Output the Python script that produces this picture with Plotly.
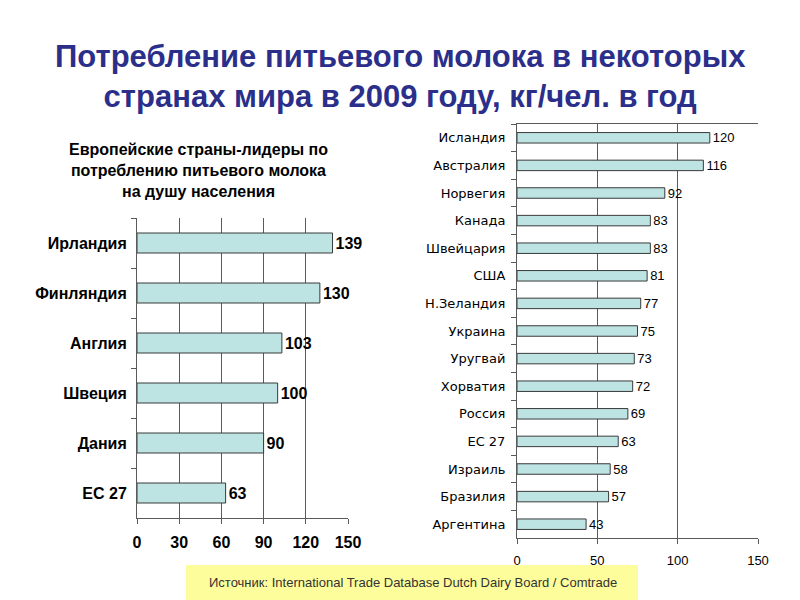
import plotly.graph_objects as go

# Left chart data (European leaders)
eu_countries = ["Ирландия", "Финляндия", "Англия", "Швеция", "Дания", "ЕС 27"]
eu_values = [139, 130, 103, 100, 90, 63]
eu_ticks = [0, 30, 60, 90, 120, 150]

# Right chart data (world)
world_countries = ["Исландия", "Австралия", "Норвегия", "Канада", "Швейцария", "США",
                   "Н.Зеландия", "Украина", "Уругвай", "Хорватия", "Россия", "ЕС 27",
                   "Израиль", "Бразилия", "Аргентина"]
world_values = [120, 116, 92, 83, 83, 81, 77, 75, 73, 72, 69, 63, 58, 57, 43]
world_ticks = [0, 50, 100, 150]

FONT = "Arial, Liberation Sans, sans-serif"
WIDE = "DejaVu Sans, Verdana, sans-serif"
BAR = "#bde3e3"
EDGE = "#3a3a3a"
GRID = "#5a5a5a"

fig = go.Figure()

fig.add_trace(go.Bar(
    x=eu_values, y=eu_countries, orientation="h",
    marker=dict(color=BAR, line=dict(color=EDGE, width=1)),
    width=0.4,
    text=[str(v) for v in eu_values], textposition="outside",
    textfont=dict(family=FONT, size=16, color="black", weight="bold"),
    constraintext="none", cliponaxis=False, xaxis="x", yaxis="y", showlegend=False,
))

fig.add_trace(go.Bar(
    x=world_values, y=world_countries, orientation="h",
    marker=dict(color=BAR, line=dict(color=EDGE, width=1)),
    width=0.38,
    text=[str(v) for v in world_values], textposition="outside",
    textfont=dict(family=FONT, size=13, color="black"),
    constraintext="none", cliponaxis=False, xaxis="x2", yaxis="y2", showlegend=False,
))

W, H = 800, 600
def fx(p): return p / W
def fy(p): return 1 - p / H

fig.update_layout(
    width=W, height=H,
    margin=dict(l=0, r=0, t=0, b=0, autoexpand=False),
    paper_bgcolor="white", plot_bgcolor="white",
    font=dict(family=FONT, color="black"),
    xaxis=dict(domain=[fx(137), fx(348)], anchor="y", range=[0, 150],
               tickvals=eu_ticks, showgrid=True, gridcolor=GRID, gridwidth=1,
               showline=True, linecolor=GRID, linewidth=1,
               ticks="outside", ticklen=5, tickcolor=GRID, ticklabelstandoff=5,
               tickfont=dict(family=FONT, size=16, color="black", weight="bold"),
               zeroline=False, fixedrange=True, automargin=False),
    yaxis=dict(domain=[fy(518), fy(218)], anchor="x", autorange="reversed",
               showline=True, linecolor=GRID, linewidth=1,
               ticks="outside", ticklen=5, tickcolor=GRID, tickson="boundaries",
               ticklabelstandoff=6,
               tickfont=dict(family=FONT, size=16, color="black", weight="bold"),
               showgrid=False, fixedrange=True, automargin=False),
    xaxis2=dict(domain=[fx(517), fx(758)], anchor="y2", range=[0, 150],
                tickvals=world_ticks, showgrid=True, gridcolor=GRID, gridwidth=1,
                showline=True, linecolor=GRID, linewidth=1, mirror=True,
                ticks="outside", ticklen=5, tickcolor=GRID, ticklabelstandoff=5,
                tickfont=dict(family=FONT, size=13, color="black"),
                zeroline=False, fixedrange=True, automargin=False),
    yaxis2=dict(domain=[fy(538), fy(124)], anchor="x2", autorange="reversed",
                showline=True, linecolor=GRID, linewidth=1,
                ticks="outside", ticklen=5, tickcolor=GRID, tickson="boundaries",
                ticklabelstandoff=8,
                tickfont=dict(family=WIDE, size=13, color="black"),
                showgrid=False, fixedrange=True, automargin=False),
    bargap=0.6,
)

fig.add_annotation(
    xref="paper", yref="paper", x=0.5, y=fy(77), xanchor="center", yanchor="middle",
    text="Потребление питьевого молока в некоторых<br>странах мира в 2009 году, кг/чел. в год",
    showarrow=False, align="center",
    font=dict(family=FONT, size=31, color="#2b2f8a", weight="bold"),
)

fig.add_annotation(
    xref="paper", yref="paper", x=fx(198), y=fy(171), xanchor="center", yanchor="middle",
    text="Европейские страны-лидеры по<br>потреблению питьевого молока<br>на душу населения",
    showarrow=False, align="center",
    font=dict(family=FONT, size=16, color="black", weight="bold"),
)

fig.add_shape(type="rect", xref="paper", yref="paper",
              x0=fx(186), x1=fx(638), y0=fy(600), y1=fy(565),
              fillcolor="#fdfd9c", line=dict(width=0), layer="below")

fig.add_annotation(
    xref="paper", yref="paper", x=fx(413), y=fy(582), xanchor="center", yanchor="middle",
    text="Источник: International Trade Database Dutch Dairy Board / Comtrade",
    showarrow=False, font=dict(family=FONT, size=13, color="#333333"),
)

fig.write_html("out.html")
